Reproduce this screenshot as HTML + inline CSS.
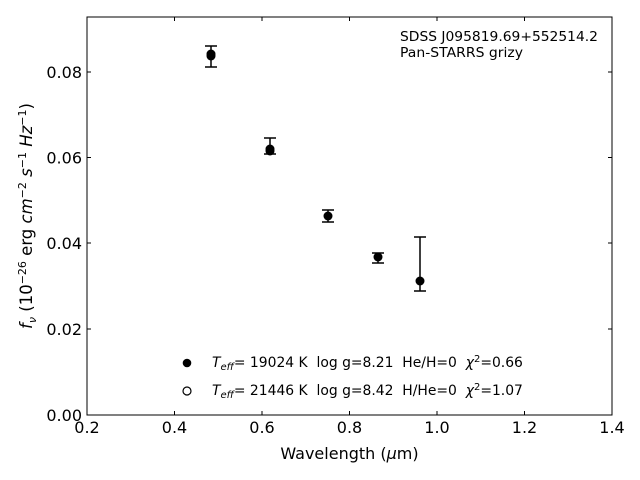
<!DOCTYPE html>
<html><head><meta charset="utf-8"><style>body{margin:0;background:#fff}svg{display:block}text{white-space:pre}</style></head><body>
<svg width="640" height="480" xmlns="http://www.w3.org/2000/svg" font-family="DejaVu Sans, Liberation Sans, sans-serif">
<rect width="640" height="480" fill="#fff"/>
<rect x="87" y="17" width="525" height="398" fill="none" stroke="#000" stroke-width="1"/>
<g stroke="#000" stroke-width="1">
<line x1="87" y1="415" x2="87" y2="411"/><line x1="174.5" y1="415" x2="174.5" y2="411"/><line x1="262" y1="415" x2="262" y2="411"/><line x1="349.5" y1="415" x2="349.5" y2="411"/><line x1="437" y1="415" x2="437" y2="411"/><line x1="524.5" y1="415" x2="524.5" y2="411"/><line x1="612" y1="415" x2="612" y2="411"/>
<line x1="87" y1="17" x2="87" y2="21"/><line x1="174.5" y1="17" x2="174.5" y2="21"/><line x1="262" y1="17" x2="262" y2="21"/><line x1="349.5" y1="17" x2="349.5" y2="21"/><line x1="437" y1="17" x2="437" y2="21"/><line x1="524.5" y1="17" x2="524.5" y2="21"/><line x1="612" y1="17" x2="612" y2="21"/>
<line x1="87" y1="329" x2="91" y2="329"/><line x1="87" y1="243" x2="91" y2="243"/><line x1="87" y1="157.5" x2="91" y2="157.5"/><line x1="87" y1="72" x2="91" y2="72"/>
<line x1="612" y1="329" x2="608" y2="329"/><line x1="612" y1="243" x2="608" y2="243"/><line x1="612" y1="157.5" x2="608" y2="157.5"/><line x1="612" y1="72" x2="608" y2="72"/><line x1="612" y1="415" x2="608" y2="415"/>
</g>
<g font-size="16" text-anchor="middle">
<text x="87" y="433">0.2</text><text x="174.5" y="433">0.4</text><text x="262" y="433">0.6</text><text x="349.5" y="433">0.8</text><text x="437" y="433">1.0</text><text x="524.5" y="433">1.2</text><text x="612" y="433">1.4</text>
</g>
<g font-size="16" text-anchor="end">
<text x="82" y="421">0.00</text><text x="82" y="335">0.02</text><text x="82" y="249">0.04</text><text x="82" y="163.5">0.06</text><text x="82" y="78">0.08</text>
</g>
<text x="349.5" y="459" font-size="16" text-anchor="middle">Wavelength (<tspan font-style="italic">μ</tspan>m)</text>
<text transform="translate(32,216) rotate(-90)" font-size="16.5" text-anchor="middle"><tspan font-style="italic">f<tspan font-size="11" dy="4">ν</tspan></tspan><tspan dy="-4"> (10</tspan><tspan font-size="11" dy="-6">−26</tspan><tspan dy="6"> erg </tspan><tspan font-style="italic">cm</tspan><tspan font-size="11" dy="-6">−2</tspan><tspan dy="6"> </tspan><tspan font-style="italic">s</tspan><tspan font-size="11" dy="-6">−1</tspan><tspan dy="6"> </tspan><tspan font-style="italic">Hz</tspan><tspan font-size="11" dy="-6">−1</tspan><tspan dy="6">)</tspan></text>
<text x="400" y="41" font-size="13" textLength="198" lengthAdjust="spacingAndGlyphs">SDSS J095819.69+552514.2</text>
<text x="400" y="57" font-size="13" textLength="123" lengthAdjust="spacingAndGlyphs">Pan-STARRS grizy</text>
<g stroke="#000" stroke-width="1.5">
<line x1="211" y1="46" x2="211" y2="67"/><line x1="205" y1="46" x2="217" y2="46"/><line x1="205" y1="67" x2="217" y2="67"/>
<line x1="270" y1="138" x2="270" y2="154"/><line x1="264" y1="138" x2="276" y2="138"/><line x1="264" y1="154" x2="276" y2="154"/>
<line x1="328" y1="210" x2="328" y2="222"/><line x1="322" y1="210" x2="334" y2="210"/><line x1="322" y1="222" x2="334" y2="222"/>
<line x1="378" y1="253" x2="378" y2="263"/><line x1="372" y1="253" x2="384" y2="253"/><line x1="372" y1="263" x2="384" y2="263"/>
<line x1="420" y1="237" x2="420" y2="291"/><line x1="414" y1="237" x2="426" y2="237"/><line x1="414" y1="291" x2="426" y2="291"/>
</g>
<g fill="#000">
<circle cx="211" cy="54" r="4.5"/><circle cx="211" cy="56" r="4.5"/>
<circle cx="270" cy="149" r="4.5"/><circle cx="270" cy="151" r="4.5"/>
<circle cx="328" cy="216" r="4.5"/>
<circle cx="378" cy="257" r="4.5"/>
<circle cx="420" cy="281" r="4.5"/>
</g>
<circle cx="187" cy="363" r="4.3" fill="#000"/>
<circle cx="187" cy="391" r="4" fill="#fff" stroke="#000" stroke-width="1.2"/>
<g font-size="13.9">
<text x="212" y="367"><tspan font-style="italic">T</tspan><tspan font-style="italic" font-size="10" dy="3">eff</tspan><tspan dy="-3">= 19024 K  log g=8.21  He/H=0  </tspan><tspan font-style="italic">χ</tspan><tspan font-size="10" dy="-5">2</tspan><tspan dy="5">=0.66</tspan></text>
<text x="212" y="395"><tspan font-style="italic">T</tspan><tspan font-style="italic" font-size="10" dy="3">eff</tspan><tspan dy="-3">= 21446 K  log g=8.42  H/He=0  </tspan><tspan font-style="italic">χ</tspan><tspan font-size="10" dy="-5">2</tspan><tspan dy="5">=1.07</tspan></text>
</g>
</svg>
</body></html>
